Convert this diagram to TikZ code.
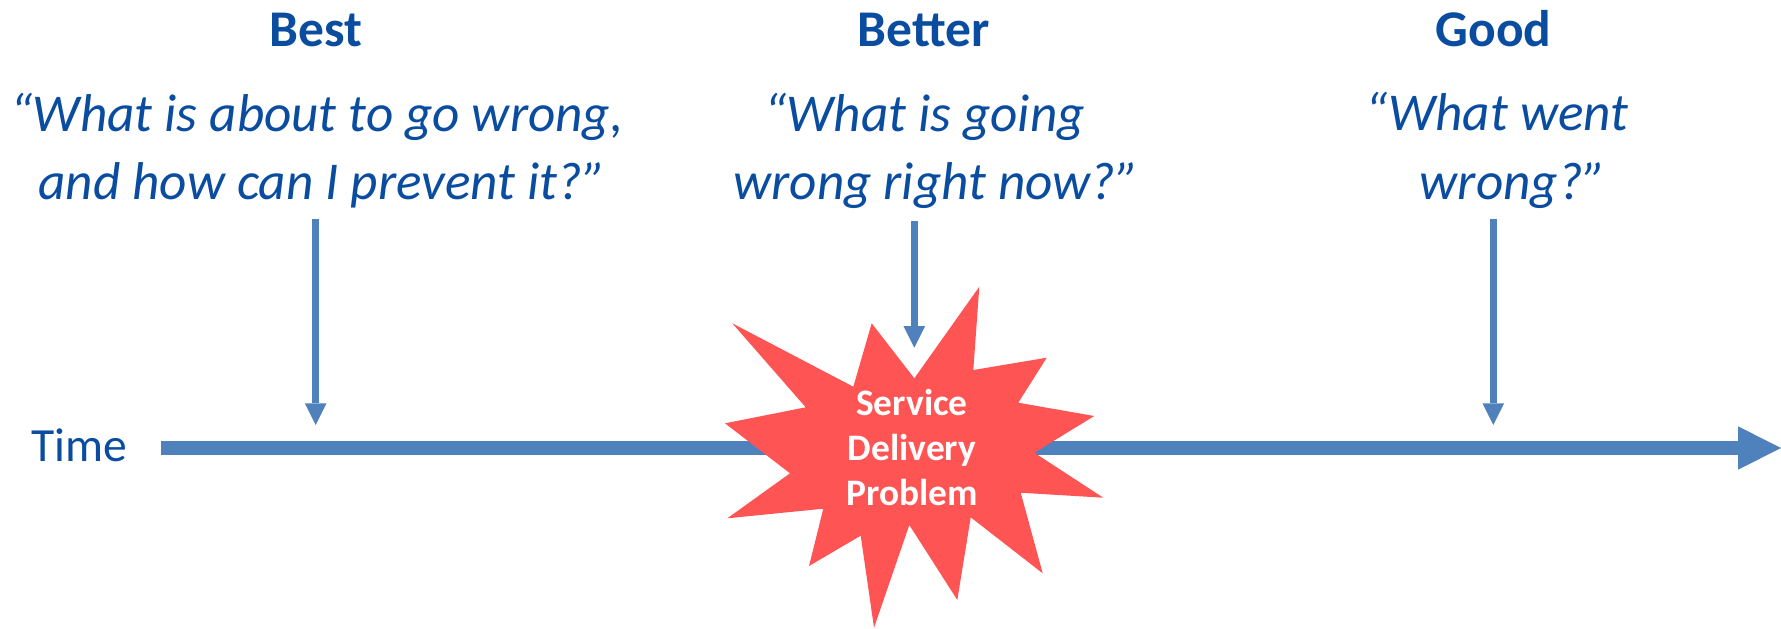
\documentclass[tikz,border=0pt]{standalone}
\usepackage{fontspec}
\setmainfont{Carlito}
\usetikzlibrary{arrows.meta}
\definecolor{txtblue}{RGB}{10,76,160}
\definecolor{arrblue}{RGB}{79,129,189}
\definecolor{burstred}{RGB}{255,84,84}
\begin{document}
\begin{tikzpicture}[x=0.5pt,y=-0.5pt,
  heading/.style={anchor=base,inner sep=0pt,text=txtblue,font=\fontsize{25.75}{30}\selectfont\bfseries},
  quote/.style={anchor=base,inner sep=0pt,text=txtblue,font=\fontsize{26.6}{31}\selectfont\itshape},
  bursttext/.style={anchor=base,inner sep=0pt,text=white,font=\fontsize{18.7}{22.5}\selectfont\bfseries},
  tline/.style={draw=arrblue,line width=7.25pt,-{Triangle[length=21.5pt,width=21.7pt,line width=0pt]}},
  varrow/.style={draw=arrblue,line width=3.6pt,-{Triangle[length=10.85pt,width=10.85pt,line width=0pt]}}]
\useasboundingbox (0,0) rectangle (1781,628);

% time axis
\node[anchor=base,inner sep=0pt,text=txtblue,font=\fontsize{23.8}{28}\selectfont] (time) at (79.5,461) {Time};
\coordinate (tstart) at (161,448);
\coordinate (tend) at (1781,448);
\draw[tline] (tstart) -- (tend);

% the incident burst
\fill[burstred] (979.3,286.7) -- (973.3,370) -- (1046.7,357.7) -- (1018.3,402.7)
  -- (1094.3,416) -- (1034.3,452.7) -- (1103.3,497.7) -- (1020.7,492.7)
  -- (1042.7,573.3) -- (970.7,517.3) -- (957.3,600) -- (909.3,525)
  -- (874,627.7) -- (860.7,535.7) -- (809,566) -- (823.3,508.7)
  -- (727.3,518.3) -- (790,473.3) -- (725,423.3) -- (805.7,407.3)
  -- (732.3,323.3) -- (853.3,386.7) -- (871.7,323.3) -- (914.3,378.3) -- cycle;
\node[bursttext] (svc) at (912,415) {Service};
\node[bursttext] (dlv) at (912,460) {Delivery};
\node[bursttext] (prb) at (912,505) {Problem};

% headings
\node[heading] (best) at (316,46) {Best};
\node[heading] (better) at (923.5,46) {Better};
\node[heading] (good) at (1493.5,46) {Good};

% questions
\node[quote] (bestq1) at (317,131) {“What is about to go wrong,};
\node[quote] (bestq2) at (322,199) {and how can I prevent it?”};
\node[quote] (betterq1) at (924.5,131) {“What is going};
\node[quote] (betterq2) at (936,199) {wrong right now?”};
\node[quote] (goodq1) at (1497,130) {“What went};
\node[quote] (goodq2) at (1513,199) {wrong?”};

% pointers onto the time axis
\coordinate (bestA) at (315.7,219);
\coordinate (bestB) at (315.7,425);
\coordinate (betterA) at (914.3,221);
\coordinate (betterB) at (914.3,347.7);
\coordinate (goodA) at (1493.3,219);
\coordinate (goodB) at (1493.3,425);
\draw[varrow] (bestA) -- (bestB);
\draw[varrow] (betterA) -- (betterB);
\draw[varrow] (goodA) -- (goodB);
\end{tikzpicture}
\end{document}
